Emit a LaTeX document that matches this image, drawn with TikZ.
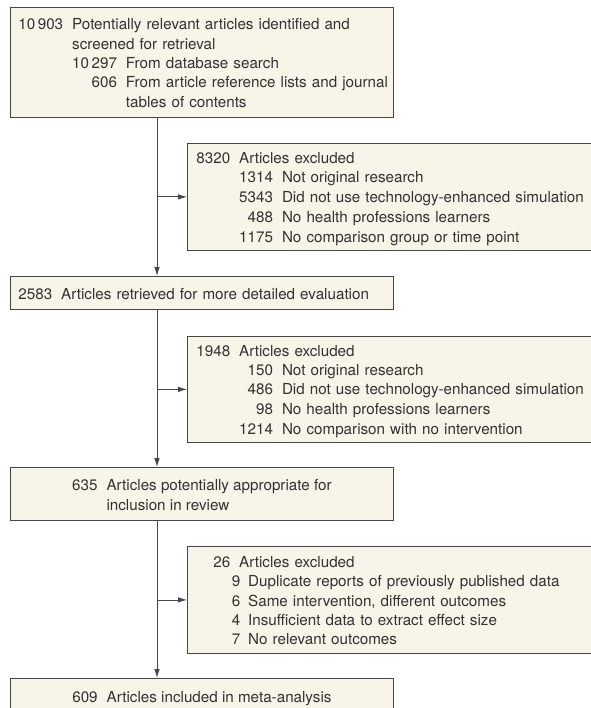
\documentclass[tikz,border=0pt]{standalone}
\usepackage{fontspec}
\setmainfont{TeX Gyre Heros}
\usetikzlibrary{arrows.meta}
\definecolor{boxfill}{RGB}{247,244,232}
\definecolor{boxline}{RGB}{70,70,70}
\definecolor{txt}{RGB}{50,50,50}
\newcommand\st{\rule[-3.2pt]{0pt}{18.8pt}}
\newcommand\g{\hspace{9pt}}
\newcommand\fline[1]{\st\mbox{#1}}
\tikzset{
  flowbox/.style={draw=boxline, fill=boxfill, line width=0.8pt, inner sep=0pt,
    anchor=north west, align=left, text=txt,
    font=\fontsize{15.2}{18.8}\selectfont},
  conn/.style={draw=boxline, line width=0.8pt, -{Latex[length=9pt,width=5.5pt]}}
}
\begin{document}
\begin{tikzpicture}[x=1pt,y=-1pt]
\useasboundingbox (0,0) rectangle (590,708);
\coordinate (sp) at (157,0);

\node[flowbox, minimum width=383, minimum height=110, text width=367] (b1) at (10,7) {%
\fline{10\,903\g Potentially relevant articles identified and}\\
\fline{\hphantom{10\,903\g}screened for retrieval}\\
\fline{\hphantom{10\,903\g}10\,297\g From database search}\\
\fline{\hphantom{10\,903\g 10\,297}\llap{606}\g From article reference lists and journal}\\
\fline{\hphantom{10\,903\g 10\,297\g}tables of contents}};

\node[flowbox, minimum width=413, minimum height=107, text width=395] (e1) at (187,143) {%
\fline{8320\g Articles excluded}\\
\fline{\hphantom{8320\g}1314\g Not original research}\\
\fline{\hphantom{8320\g}5343\g Did not use technology-enhanced simulation}\\
\fline{\hphantom{8320\g 1314}\llap{488}\g No health professions learners}\\
\fline{\hphantom{8320\g}1175\g No comparison group or time point}};

\node[flowbox, minimum width=383, minimum height=33, text width=367] (b2) at (10,276) {%
\fline{2583\g Articles retrieved for more detailed evaluation}};

\node[flowbox, minimum width=413, minimum height=106, text width=395] (e2) at (187,336) {%
\fline{1948\g Articles excluded}\\
\fline{\hphantom{1948\g 1314}\llap{150}\g Not original research}\\
\fline{\hphantom{1948\g 1314}\llap{486}\g Did not use technology-enhanced simulation}\\
\fline{\hphantom{1948\g 1314}\llap{98}\g No health professions learners}\\
\fline{\hphantom{1948\g}1214\g No comparison with no intervention}};

\node[flowbox, minimum width=383, minimum height=53] (b3) at (10,467) {%
\fline{635\g Articles potentially appropriate for}\\
\fline{\hphantom{635\g}inclusion in review}};

\node[flowbox, minimum width=413, minimum height=107, text width=395] (e3) at (187,546) {%
\fline{\hphantom{0000}\llap{26}\g Articles excluded}\\
\fline{\hphantom{0000\hspace{10pt}}\llap{9}\hspace{8pt}Duplicate reports of previously published data}\\
\fline{\hphantom{0000\hspace{10pt}}\llap{6}\hspace{8pt}Same intervention, different outcomes}\\
\fline{\hphantom{0000\hspace{10pt}}\llap{4}\hspace{8pt}Insufficient data to extract effect size}\\
\fline{\hphantom{0000\hspace{10pt}}\llap{7}\hspace{8pt}No relevant outcomes}};

\node[flowbox, minimum width=383, minimum height=36] (b4) at (10,678) {%
\fline{609\g Articles included in meta-analysis}};

\draw[conn] (sp |- b1.south) -- (sp |- b2.north);
\draw[conn] (sp |- e1.west) -- (e1.west);
\draw[conn] (sp |- b2.south) -- (sp |- b3.north);
\draw[conn] (sp |- e2.west) -- (e2.west);
\draw[conn] (sp |- b3.south) -- (sp |- b4.north);
\draw[conn] (sp |- e3.west) -- (e3.west);
\end{tikzpicture}
\end{document}
